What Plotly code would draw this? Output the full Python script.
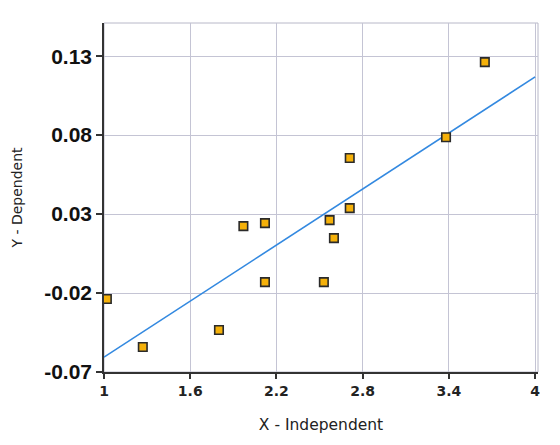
import numpy as np
import plotly.graph_objects as go

x_vals = [1.02, 1.27, 1.80, 1.97, 2.12, 2.12, 2.53, 2.57, 2.60, 2.71, 2.71, 3.38, 3.65]
y_vals = [-0.0238, -0.0542, -0.0434, 0.0224, 0.0243, -0.0131, -0.0131, 0.0262, 0.0148, 0.0338, 0.0655, 0.0787, 0.1262]

x_ticks = [1, 1.6, 2.2, 2.8, 3.4, 4]
x_tick_text = ["1", "1.6", "2.2", "2.8", "3.4", "4"]
y_ticks = [-0.07, -0.02, 0.03, 0.08, 0.13]
y_tick_text = ["-0.07", "-0.02", "0.03", "0.08", "0.13"]

slope, intercept = np.polyfit(x_vals, y_vals, 1)
fit_x = [1, 4]
fit_y = [intercept + slope * v for v in fit_x]

fig = go.Figure()
fig.add_trace(go.Scatter(x=fit_x, y=fit_y, mode="lines",
                         line=dict(color="#3389e0", width=1.6), showlegend=False))
fig.add_trace(go.Scatter(x=x_vals, y=y_vals, mode="markers",
                         marker=dict(symbol="square", size=8.5, color="#f5b10a",
                                     line=dict(color="#2a2a2a", width=1.6)),
                         showlegend=False))

grid = "#c4c4d4"
fig.update_layout(
    width=560, height=445,
    margin=dict(l=104, r=22, t=23, b=73),
    paper_bgcolor="white", plot_bgcolor="white",
    xaxis=dict(range=[1, 4.02], tickvals=x_ticks, ticktext=x_tick_text,
               showgrid=True, gridcolor=grid, gridwidth=1,
               showline=True, linecolor="#333", linewidth=1.5,
               ticks="outside", ticklen=5, tickcolor="#333", tickwidth=2,
               zeroline=False,
               tickfont=dict(family="DejaVu Sans", size=14, color="#222", weight="bold"),
               title=dict(text="X - Independent", standoff=22,
                          font=dict(family="DejaVu Sans", size=15.5, color="#222"))),
    yaxis=dict(range=[-0.07, 0.151], tickvals=y_ticks, ticktext=y_tick_text,
               showgrid=True, gridcolor=grid, gridwidth=1,
               showline=True, linecolor="#333", linewidth=1.5,
               ticks="outside", ticklen=6, tickcolor="#333", tickwidth=2,
               zeroline=False,
               tickfont=dict(family="Liberation Sans", size=21, color="#111", weight="bold"),
               title=dict(text="Y - Dependent", standoff=18,
                          font=dict(family="DejaVu Sans", size=14, color="#222"))),
    shapes=[dict(type="rect", xref="paper", yref="paper", x0=0, y0=0, x1=1, y1=1,
                 line=dict(color="#b8b8c8", width=1), layer="below")],
)

fig.write_html("out.html")
